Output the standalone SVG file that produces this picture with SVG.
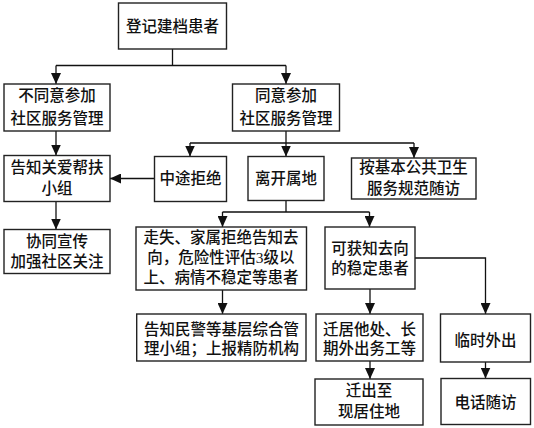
<svg xmlns="http://www.w3.org/2000/svg" width="534" height="428" viewBox="0 0 534 428">
<defs>
<marker id="ah" markerUnits="userSpaceOnUse" markerWidth="11" markerHeight="10" refX="11" refY="5" orient="auto">
<path d="M0,0 L11,5 L0,10 Z" fill="#111"/>
</marker>
<style>
.box{fill:#fff;stroke:#222;stroke-width:1.4}
.t{font-family:"Liberation Serif","Noto Sans CJK SC",serif;font-size:15.5px;font-weight:500;fill:#111;text-anchor:middle;dominant-baseline:central}
.c{fill:none;stroke:#111;stroke-width:1.3}
.a{marker-end:url(#ah)}
</style>
</defs>
<rect width="534" height="428" fill="#fff"/>
<g id="connectors">
<path class="c" d="M172.5,49 V65.5 M56,65.5 H286"/>
<path class="c a" d="M56,65.5 V84"/>
<path class="c a" d="M286,65.5 V84"/>
<path class="c a" d="M56,131 V155.5"/>
<path class="c" d="M286,131 V143 M190,143 H414"/>
<path class="c a" d="M190,143 V156.5"/>
<path class="c a" d="M286,143 V156.5"/>
<path class="c a" d="M414,143 V158"/>
<path class="c a" d="M154.5,178.5 H110"/>
<path class="c a" d="M56,201.5 V229.5"/>
<path class="c" d="M286,200.5 V212 M222.5,212 H369.5"/>
<path class="c a" d="M222.5,212 V227"/>
<path class="c a" d="M369.5,212 V227"/>
<path class="c a" d="M222.5,290 V314"/>
<path class="c a" d="M370,289 V314"/>
<path class="c a" d="M415,258 H485.5 V314"/>
<path class="c a" d="M370,361 V379"/>
<path class="c a" d="M485.5,362 V378.5"/>
</g>
<g id="n1"><rect class="box" x="118.5" y="3" width="108" height="46"/><text class="t" x="172.5" y="26">登记建档患者</text></g>
<g id="n2"><rect class="box" x="4" y="84" width="106" height="47"/><text class="t" x="57" y="95.5">不同意参加</text><text class="t" x="57" y="118">社区服务管理</text></g>
<g id="n3"><rect class="box" x="232.5" y="84" width="107" height="47"/><text class="t" x="286" y="95.5">同意参加</text><text class="t" x="286" y="118">社区服务管理</text></g>
<g id="n4"><rect class="box" x="4" y="155.5" width="106" height="46"/><text class="t" x="57" y="167.5">告知关爱帮扶</text><text class="t" x="57" y="188.5">小组</text></g>
<g id="n5"><rect class="box" x="154.5" y="156.5" width="72" height="45"/><text class="t" x="190.5" y="178.5">中途拒绝</text></g>
<g id="n6"><rect class="box" x="248" y="156.5" width="76" height="44"/><text class="t" x="286" y="178.5">离开属地</text></g>
<g id="n7"><rect class="box" x="351.5" y="158" width="124.5" height="41"/><text class="t" x="413.5" y="167.5">按基本公共卫生</text><text class="t" x="413.5" y="188.5">服务规范随访</text></g>
<g id="n8"><rect class="box" x="4" y="229.5" width="106" height="44"/><text class="t" x="57" y="241">协同宣传</text><text class="t" x="57" y="261.5">加强社区关注</text></g>
<g id="n9"><rect class="box" x="136" y="227" width="170.5" height="63"/><text class="t" x="221" y="237.5">走失、家属拒绝告知去</text><text class="t" x="221" y="257.5">向，危险性评估3级以</text><text class="t" x="221" y="277">上、病情不稳定等患者</text></g>
<g id="n10"><rect class="box" x="325" y="227" width="90" height="62"/><text class="t" x="370" y="248">可获知去向</text><text class="t" x="370" y="268.5">的稳定患者</text></g>
<g id="n11"><rect class="box" x="136.7" y="314" width="169.3" height="47"/><text class="t" x="221.5" y="329">告知民警等基层综合管</text><text class="t" x="221.5" y="348.5">理小组；上报精防机构</text></g>
<g id="n12"><rect class="box" x="316" y="314" width="107" height="47"/><text class="t" x="369.5" y="329">迁居他处、长</text><text class="t" x="369.5" y="348.5">期外出务工等</text></g>
<g id="n13"><rect class="box" x="440.5" y="314" width="90" height="48"/><text class="t" x="485.5" y="340">临时外出</text></g>
<g id="n14"><rect class="box" x="315" y="379" width="108" height="46"/><text class="t" x="369" y="390.5">迁出至</text><text class="t" x="369" y="411.5">现居住地</text></g>
<g id="n15"><rect class="box" x="441" y="378.5" width="89.5" height="46"/><text class="t" x="485.5" y="402">电话随访</text></g>
</svg>
